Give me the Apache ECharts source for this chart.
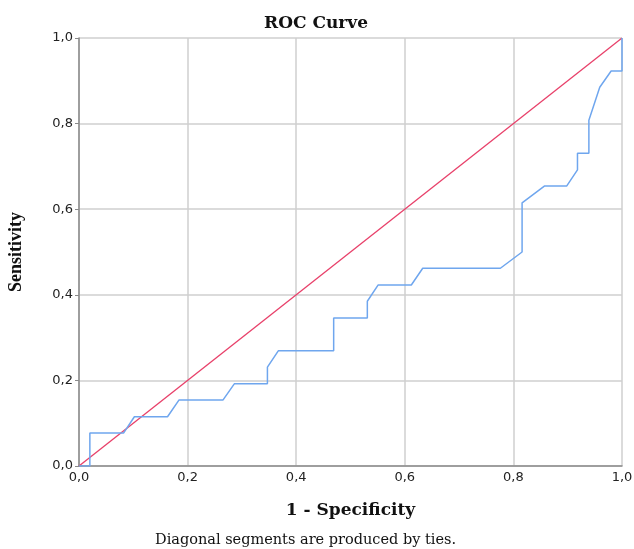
<!DOCTYPE html>
<html>
<head>
<meta charset="utf-8">
<script src="https://cdn.jsdelivr.net/npm/echarts@6/dist/echarts.min.js"></script>
<style>
  html, body { margin: 0; padding: 0; background: #fff; }
  #chart { width: 634px; height: 549px; }
</style>
</head>
<body>
<div id="chart"></div>
<script>
// ROC curve points: 1 - specificity (x) and sensitivity (y)
var fpr = [0, 0.020, 0.020, 0.082, 0.102, 0.163, 0.184, 0.265, 0.286, 0.347, 0.347, 0.367,
           0.469, 0.469, 0.531, 0.531, 0.551, 0.612, 0.633, 0.776, 0.816, 0.816, 0.857,
           0.898, 0.918, 0.918, 0.939, 0.939, 0.959, 0.980, 1, 1];
var tpr = [0, 0, 0.077, 0.077, 0.115, 0.115, 0.154, 0.154, 0.192, 0.192, 0.231, 0.269,
           0.269, 0.346, 0.346, 0.385, 0.423, 0.423, 0.462, 0.462, 0.5, 0.615, 0.654,
           0.654, 0.692, 0.731, 0.731, 0.808, 0.885, 0.923, 0.923, 1];
var refLine = [[0, 0], [1, 1]];

var chart = echarts.init(document.getElementById('chart'));

var rocData = fpr.map(function (x, i) { return [x, tpr[i]]; });

function commaFmt(v) {
    return v.toFixed(1).replace('.', ',');
}

var serif = '"DejaVu Serif", "Liberation Serif", serif';
var narrowSerif = '"Liberation Serif", serif';
var tickFont = '"DejaVu Sans", sans-serif';

var option = {
    animation: false,
    backgroundColor: '#fff',
    title: {
        text: 'ROC Curve',
        left: 311,
        textAlign: 'center',
        top: 10,
        textStyle: { fontFamily: serif, fontWeight: 'bold', fontSize: 17, color: '#111' }
    },
    grid: { left: 79, right: 12, top: 38, bottom: 83, outerBoundsMode: 'none' },
    xAxis: {
        type: 'value',
        min: 0, max: 1, interval: 0.2,
        name: '1 - Specificity',
        nameLocation: 'middle',
        nameGap: 36,
        nameTextStyle: { fontFamily: serif, fontWeight: 'bold', fontSize: 17, color: '#111' },
        axisLine: { show: true, lineStyle: { color: '#8a8a8a', width: 1.5 } },
        axisTick: { show: false },
        axisLabel: {
            formatter: commaFmt, color: '#222', fontSize: 13, margin: 5,
            fontFamily: tickFont, showMaxLabel: true, showMinLabel: true
        },
        splitLine: { show: true, lineStyle: { color: '#cfcfcf', width: 1.5 } }
    },
    yAxis: {
        type: 'value',
        min: 0, max: 1, interval: 0.2,
        name: 'Sensitivity',
        nameLocation: 'middle',
        nameGap: 54,
        nameTextStyle: { fontFamily: narrowSerif, fontWeight: 'bold', fontSize: 18, color: '#111' },
        axisLine: { show: true, lineStyle: { color: '#8a8a8a', width: 1.5 } },
        axisTick: { show: true, length: 4, lineStyle: { color: '#8a8a8a' } },
        axisLabel: { formatter: commaFmt, color: '#222', fontSize: 13, margin: 6, fontFamily: tickFont },
        splitLine: { show: true, lineStyle: { color: '#cfcfcf', width: 1.5 } }
    },
    graphic: [{
        type: 'text',
        left: 155,
        top: 533,
        style: {
            text: 'Diagonal segments are produced by ties.',
            font: '14.5px ' + serif,
            fill: '#111'
        }
    }],
    series: [
        {
            type: 'line',
            data: refLine,
            symbol: 'none',
            lineStyle: { color: '#e8406a', width: 1.3 },
            z: 3
        },
        {
            type: 'line',
            data: rocData,
            symbol: 'none',
            lineStyle: { color: '#6fa6ee', width: 1.5 },
            z: 4
        }
    ]
};

chart.setOption(option);
</script>
</body>
</html>
